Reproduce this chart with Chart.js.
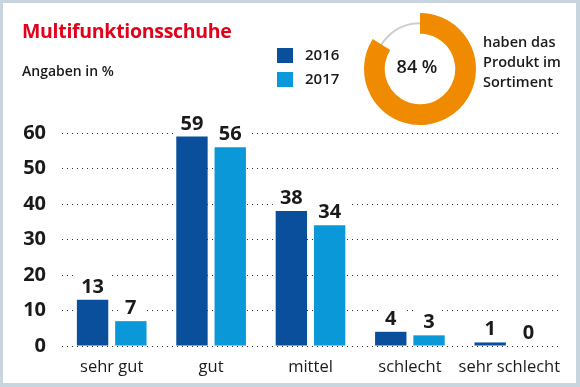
<!DOCTYPE html>
<html>
<head>
<meta charset="utf-8">
<script src="https://cdn.jsdelivr.net/npm/chart.js@4/dist/chart.umd.min.js"></script>
<style>
  body { margin: 0; background: #fff; font-family: "Open Sans", sans-serif; }
  #frame { position: relative; width: 580px; height: 387px; box-sizing: border-box; border: 3px solid #c8d5de; border-bottom-width: 4px; border-right-width: 4px; overflow: hidden; }
  #bars { position: absolute; left: -3px; top: -3px; }
  #ring { position: absolute; left: 358px; top: 7px; }
  .txt { position: absolute; color: #1a1a1a; white-space: nowrap; }
  #title { left: 19px; top: 14px; font-size: 19.5px; font-weight: 700; color: #e3001b; letter-spacing: -0.3px; }
  #sub { left: 19px; top: 58px; font-size: 14px; font-weight: 600; }
  .sw { position: absolute; width: 16px; height: 15px; }
  .lg { font-size: 15px; font-weight: 600; }
  #pct { left: 374px; top: 51px; width: 80px; text-align: center; font-size: 18px; font-weight: 600; }
  #cap { left: 480px; top: 29px; font-size: 14.5px; font-weight: 600; line-height: 20px; }
</style>
</head>
<body>
<div id="frame">
  <canvas id="bars" width="580" height="387"></canvas>
  <canvas id="ring" width="118" height="118"></canvas>
  <div class="txt" id="title">Multifunktionsschuhe</div>
  <div class="txt" id="sub">Angaben in %</div>
  <div class="sw" style="left:274px;top:45px;background:#0a4f9c"></div>
  <div class="txt lg" style="left:302px;top:41px">2016</div>
  <div class="sw" style="left:274px;top:69px;background:#0a98d8"></div>
  <div class="txt lg" style="left:302px;top:65px">2017</div>
  <div class="txt" id="pct">84 %</div>
  <div class="txt" id="cap">haben das<br>Produkt im<br>Sortiment</div>
</div>
<script>
const categories = ['sehr gut', 'gut', 'mittel', 'schlecht', 'sehr schlecht'];
const werte2016 = [13, 59, 38, 4, 1];
const werte2017 = [7, 56, 34, 3, 0];
const yTicks = [0, 10, 20, 30, 40, 50, 60];
const imSortiment = 84;

const dunkelblau = '#0a4f9c';
const hellblau = '#0a98d8';
const orange = '#f08a00';

Chart.defaults.font.family = '"Open Sans", sans-serif';
Chart.defaults.color = '#1a1a1a';

// weisse Kaesten hinter den Zahlen, dann die Zahlen ueber den Balken
const wertePlugin = {
  id: 'werte',
  beforeDatasetsDraw(chart) {
    const ctx = chart.ctx;
    ctx.save();
    ctx.font = 'bold 20px "Open Sans"';
    ctx.fillStyle = '#fff';
    chart.data.datasets.forEach((ds, i) => {
      chart.getDatasetMeta(i).data.forEach((bar, j) => {
        const w = ctx.measureText(String(ds.data[j])).width + 14;
        ctx.fillRect(bar.x - w / 2, bar.y - 30, w, 29);
      });
    });
    ctx.restore();
  },
  afterDatasetsDraw(chart) {
    const ctx = chart.ctx;
    ctx.save();
    ctx.font = 'bold 20px "Open Sans"';
    ctx.fillStyle = '#1a1a1a';
    ctx.textAlign = 'center';
    ctx.textBaseline = 'alphabetic';
    chart.data.datasets.forEach((ds, i) => {
      chart.getDatasetMeta(i).data.forEach((bar, j) => {
        ctx.fillText(String(ds.data[j]), bar.x, bar.y - 7);
      });
    });
    ctx.restore();
  }
};

new Chart(document.getElementById('bars'), {
  type: 'bar',
  data: {
    labels: categories,
    datasets: [
      { label: '2016', data: werte2016, backgroundColor: dunkelblau },
      { label: '2017', data: werte2017, backgroundColor: hellblau }
    ]
  },
  options: {
    responsive: false,
    animation: false,
    categoryPercentage: 0.77,
    barPercentage: 0.82,
    layout: { padding: { top: 133, right: 21, left: 0, bottom: 0 } },
    plugins: { legend: { display: false }, tooltip: { enabled: false } },
    scales: {
      x: {
        grid: { display: false },
        border: { display: false },
        ticks: { font: { size: 16.5 }, padding: 3, maxRotation: 0, minRotation: 0, autoSkip: false },
        afterFit: s => { s.height = 41; }
      },
      y: {
        min: 0,
        max: 60,
        afterBuildTicks: s => { s.ticks = yTicks.map(v => ({ value: v })); },
        grid: { color: '#333', lineWidth: 1, drawTicks: false },
        border: { display: false, dash: [1, 4] },
        ticks: { font: { size: 20, weight: 'bold' }, padding: 16 },
        afterFit: s => { s.width = 62; }
      }
    }
  },
  plugins: [wertePlugin]
});

// duenner grauer Ring unter dem orangen Bogen
const ringPlugin = {
  id: 'ringGrau',
  beforeDatasetsDraw(chart) {
    const arc = chart.getDatasetMeta(0).data[0];
    const r = (arc.outerRadius + arc.innerRadius) / 2;
    const ctx = chart.ctx;
    ctx.save();
    ctx.strokeStyle = '#cfcfcf';
    ctx.lineWidth = 2;
    ctx.beginPath();
    ctx.arc(arc.x, arc.y, r, 0, Math.PI * 2);
    ctx.stroke();
    ctx.restore();
  }
};

new Chart(document.getElementById('ring'), {
  type: 'doughnut',
  data: {
    labels: ['im Sortiment', 'nicht im Sortiment'],
    datasets: [{
      data: [imSortiment, 100 - imSortiment],
      backgroundColor: [orange, 'rgba(0,0,0,0)'],
      borderWidth: 0
    }]
  },
  options: {
    responsive: false,
    animation: false,
    cutout: '63%',
    layout: { padding: 3 },
    plugins: { legend: { display: false }, tooltip: { enabled: false } }
  },
  plugins: [ringPlugin]
});
</script>
</body>
</html>
